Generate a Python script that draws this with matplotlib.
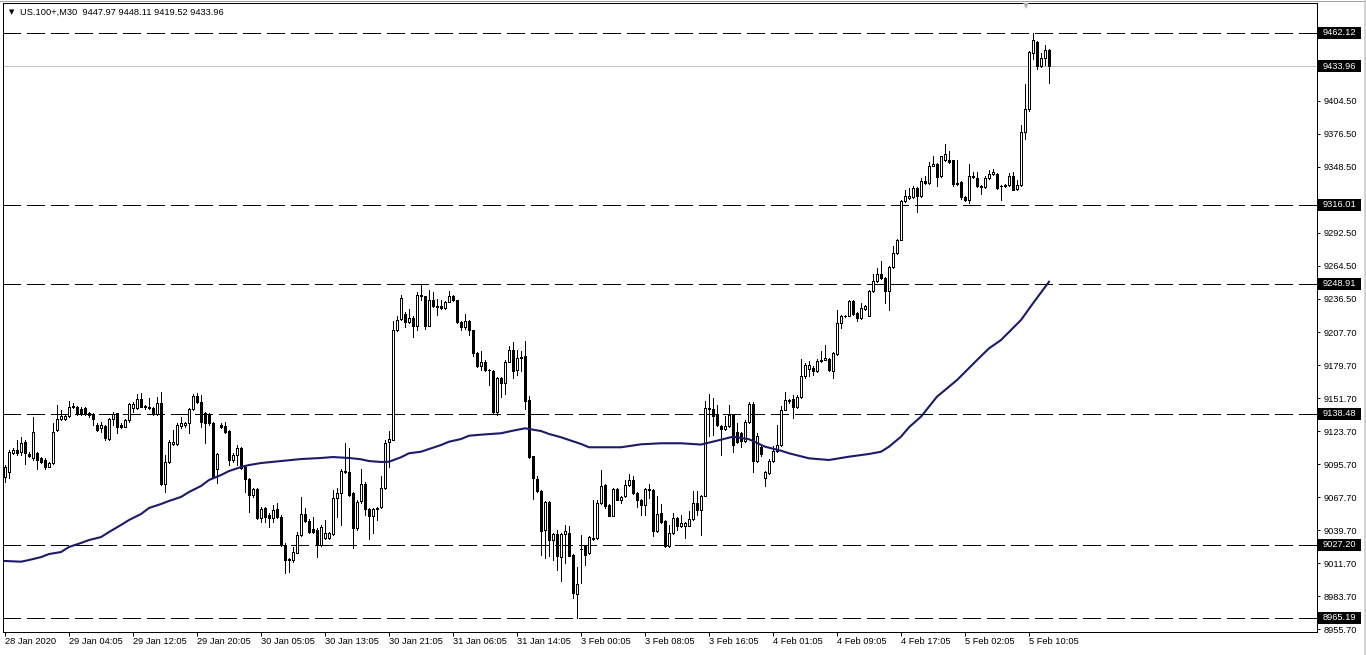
# US.100+ M30 candlestick chart (MT4 style)

import numpy as np
import matplotlib
matplotlib.use("Agg")
import matplotlib.pyplot as plt
from matplotlib.patches import Rectangle
from matplotlib.lines import Line2D
import matplotlib.transforms as mtransforms

plt.rcParams['font.family'] = ['Liberation Sans', 'DejaVu Sans']

# ------------------ DATA ------------------

header = "US.100+,M30  9447.97 9448.11 9419.52 9433.96"

opens = [
    9085.2, 9089.4, 9105.6, 9107.8, 9106.4, 9114.9, 9104.4, 9100.8, 9105.0, 9100.8,
    9099.3, 9093.7, 9096.5, 9124.8, 9133.9, 9133.9, 9136.7, 9144.1, 9144.1, 9142.7,
    9143.2, 9139.0, 9138.1, 9129.1, 9126.2, 9128.2, 9116.9, 9133.9, 9139.0, 9129.1,
    9127.7, 9133.3, 9143.2, 9143.2, 9150.9, 9145.2, 9144.6, 9143.2, 9138.4, 9148.0,
    9079.0, 9097.9, 9112.9, 9112.9, 9128.2, 9129.1, 9131.1, 9142.4, 9153.7, 9148.9,
    9139.0, 9137.6, 9130.5, 9091.4, 9129.1, 9128.2, 9124.3, 9099.3, 9103.6, 9109.2,
    9093.7, 9082.9, 9069.6, 9074.4, 9049.8, 9058.3, 9052.6, 9049.8, 9057.4, 9051.2,
    9027.1, 9014.4, 9014.4, 9020.6, 9035.6, 9053.2, 9047.8, 9040.4, 9039.9, 9027.1,
    9032.8, 9032.8, 9036.5, 9066.8, 9071.0, 9090.3, 9089.4, 9071.0, 9041.3, 9064.2,
    9079.2, 9057.7, 9051.4, 9057.7, 9059.4, 9075.5, 9114.3, 9116.6, 9209.5, 9219.1,
    9223.6, 9216.5, 9219.9, 9213.4, 9239.8, 9238.3, 9213.4, 9234.9, 9230.4, 9230.4,
    9228.4, 9233.8, 9238.9, 9234.9, 9216.5, 9212.3, 9217.1, 9209.5, 9190.2, 9178.9,
    9182.3, 9176.0, 9174.6, 9139.8, 9169.0, 9164.7, 9182.8, 9193.0, 9175.5, 9186.8,
    9187.9, 9150.6, 9102.4, 9083.2, 9072.7, 9039.5, 9063.3, 9031.0, 9036.7, 9016.9,
    9036.7, 9037.3, 9018.9, 8985.7, 9023.7, 9026.5, 9020.3, 9032.2, 9033.0, 9062.8,
    9078.3, 9061.4, 9052.0, 9074.7, 9065.0, 9068.4, 9078.3, 9082.0, 9071.3, 9065.6,
    9061.4, 9074.9, 9074.1, 9038.7, 9054.3, 9047.2, 9026.5, 9037.3, 9050.0, 9042.9,
    9043.5, 9043.5, 9049.2, 9062.8, 9056.5, 9069.0, 9143.5, 9142.6, 9138.8, 9128.6,
    9125.7, 9128.0, 9137.9, 9122.9, 9122.3, 9115.3, 9131.4, 9147.2, 9098.3, 9110.4,
    9084.1, 9088.4, 9098.3, 9106.8, 9112.4, 9142.2, 9149.8, 9151.2, 9144.4, 9152.9,
    9170.5, 9176.7, 9177.6, 9174.7, 9183.2, 9184.6, 9185.2, 9174.7, 9189.7, 9215.8,
    9221.5, 9222.0, 9234.2, 9224.3, 9220.0, 9227.7, 9222.0, 9242.7, 9251.2, 9257.7,
    9254.0, 9242.7, 9263.4, 9275.3, 9286.6, 9319.2, 9322.0, 9322.8, 9330.5, 9323.4,
    9336.7, 9334.7, 9349.5, 9351.2, 9340.4, 9354.0, 9354.0, 9354.0, 9334.7, 9335.3,
    9322.8, 9320.0, 9341.0, 9339.0, 9332.5, 9331.3, 9339.0, 9342.7, 9342.7, 9332.5,
    9331.9, 9333.3, 9341.0, 9329.6, 9333.3, 9377.8, 9397.6, 9445.2, 9454.2, 9433.9,
    9440.9, 9447.97,
]

highs = [
    9095.1, 9107.8, 9109.2, 9116.3, 9119.2, 9116.3, 9106.4, 9135.6, 9106.4, 9102.2,
    9100.8, 9097.9, 9131.1, 9146.1, 9141.8, 9138.2, 9149.7, 9147.5, 9145.2, 9144.6,
    9144.1, 9140.4, 9139.0, 9130.5, 9131.9, 9129.1, 9134.7, 9140.4, 9139.5, 9130.5,
    9133.9, 9147.5, 9148.9, 9155.4, 9156.0, 9146.1, 9151.7, 9144.6, 9153.1, 9157.4,
    9103.6, 9116.3, 9124.8, 9131.1, 9136.2, 9131.9, 9143.2, 9155.4, 9156.0, 9154.6,
    9140.4, 9139.0, 9131.9, 9105.6, 9130.5, 9131.9, 9124.8, 9105.0, 9112.1, 9110.7,
    9095.1, 9083.8, 9075.3, 9075.3, 9059.7, 9059.7, 9054.0, 9061.1, 9062.5, 9052.6,
    9028.5, 9015.8, 9025.7, 9038.4, 9068.2, 9058.3, 9048.9, 9051.2, 9041.3, 9044.1,
    9048.4, 9038.4, 9073.8, 9075.3, 9091.4, 9113.5, 9109.2, 9072.4, 9065.3, 9091.6,
    9080.3, 9058.5, 9058.5, 9059.4, 9085.4, 9116.0, 9123.6, 9217.1, 9221.4, 9239.8,
    9224.8, 9227.6, 9221.4, 9241.7, 9248.3, 9238.9, 9243.4, 9241.7, 9236.1, 9235.5,
    9234.7, 9242.9, 9239.8, 9235.5, 9217.1, 9223.6, 9218.0, 9210.0, 9190.8, 9191.6,
    9184.5, 9176.6, 9175.5, 9169.8, 9169.8, 9184.0, 9196.4, 9199.3, 9193.0, 9191.6,
    9200.7, 9153.4, 9103.0, 9085.4, 9073.5, 9064.2, 9064.2, 9037.3, 9040.1, 9037.3,
    9044.4, 9042.9, 9019.7, 9008.4, 9035.9, 9027.4, 9035.0, 9065.6, 9065.6, 9091.1,
    9079.2, 9062.2, 9075.5, 9075.5, 9068.4, 9082.6, 9087.7, 9085.4, 9071.8, 9066.2,
    9075.5, 9079.2, 9074.7, 9068.4, 9062.2, 9048.0, 9044.4, 9054.3, 9050.9, 9052.8,
    9046.3, 9055.7, 9072.7, 9072.7, 9069.8, 9149.1, 9155.7, 9152.1, 9146.4, 9129.4,
    9136.5, 9146.4, 9138.8, 9130.8, 9122.9, 9133.7, 9148.4, 9148.4, 9122.3, 9112.4,
    9089.8, 9100.3, 9111.0, 9129.4, 9145.0, 9156.9, 9151.2, 9154.9, 9154.9, 9185.2,
    9181.8, 9183.2, 9179.0, 9185.2, 9191.7, 9197.4, 9186.1, 9190.9, 9227.1, 9222.9,
    9222.9, 9235.6, 9235.0, 9224.9, 9232.8, 9231.4, 9244.1, 9257.7, 9262.5, 9268.2,
    9254.9, 9263.9, 9281.5, 9287.1, 9320.0, 9328.5, 9330.5, 9331.9, 9331.3, 9339.0,
    9340.4, 9352.3, 9358.0, 9351.7, 9358.0, 9368.2, 9361.6, 9354.6, 9354.6, 9336.1,
    9323.4, 9351.2, 9343.8, 9343.8, 9333.3, 9340.4, 9346.1, 9346.6, 9343.2, 9333.3,
    9334.2, 9343.2, 9343.8, 9337.6, 9384.3, 9419.1, 9447.0, 9462.12, 9455.1, 9445.2,
    9452.3, 9448.11,
]

lows = [
    9080.9, 9084.3, 9104.4, 9103.6, 9103.6, 9095.9, 9101.6, 9099.3, 9091.4, 9096.5,
    9091.4, 9093.1, 9095.9, 9124.3, 9133.3, 9133.3, 9136.2, 9143.2, 9137.6, 9137.6,
    9137.6, 9136.2, 9129.1, 9124.3, 9123.4, 9116.3, 9116.3, 9129.1, 9122.0, 9126.2,
    9127.1, 9131.9, 9140.4, 9142.4, 9144.1, 9142.4, 9142.4, 9137.6, 9137.6, 9078.1,
    9072.4, 9096.5, 9112.1, 9112.1, 9126.2, 9127.7, 9122.0, 9141.8, 9147.5, 9127.7,
    9113.5, 9129.1, 9084.6, 9079.5, 9126.2, 9122.6, 9095.1, 9097.9, 9095.1, 9091.4,
    9072.4, 9055.4, 9068.2, 9048.9, 9047.0, 9047.0, 9042.7, 9047.0, 9049.8, 9026.5,
    9003.0, 9004.5, 9013.0, 9020.1, 9034.8, 9046.9, 9037.0, 9037.6, 9017.2, 9026.3,
    9032.0, 9032.0, 9035.6, 9051.2, 9044.1, 9088.6, 9068.8, 9024.3, 9039.9, 9062.8,
    9052.8, 9032.2, 9037.3, 9048.0, 9058.5, 9074.7, 9093.3, 9116.0, 9208.6, 9218.5,
    9212.3, 9215.7, 9203.8, 9209.5, 9235.5, 9210.6, 9212.9, 9229.3, 9222.8, 9227.6,
    9227.6, 9233.2, 9234.1, 9215.7, 9210.0, 9210.6, 9205.8, 9187.4, 9178.3, 9176.0,
    9175.2, 9163.3, 9139.2, 9137.8, 9152.8, 9155.7, 9182.3, 9169.0, 9171.8, 9174.6,
    9142.6, 9101.0, 9066.2, 9071.8, 9018.9, 9016.0, 9017.5, 9014.6, 9006.1, 8996.2,
    9011.8, 9017.5, 8982.1, 8965.19, 8994.8, 9010.4, 9019.7, 9031.6, 9032.2, 9062.2,
    9058.5, 9051.4, 9051.4, 9065.0, 9062.8, 9067.9, 9077.5, 9070.7, 9059.4, 9052.8,
    9052.8, 9067.0, 9035.0, 9037.8, 9045.8, 9025.9, 9025.4, 9036.7, 9040.1, 9042.4,
    9033.0, 9042.9, 9048.6, 9052.8, 9035.9, 9068.4, 9119.4, 9120.9, 9128.6, 9103.9,
    9125.2, 9127.4, 9105.9, 9113.8, 9110.4, 9114.4, 9130.8, 9088.9, 9097.4, 9102.5,
    9077.0, 9087.8, 9097.4, 9105.9, 9111.6, 9141.6, 9147.8, 9135.1, 9143.6, 9152.1,
    9169.1, 9170.5, 9171.9, 9173.9, 9182.4, 9184.1, 9174.7, 9169.1, 9188.9, 9211.5,
    9220.9, 9221.5, 9222.9, 9217.2, 9219.2, 9227.1, 9221.5, 9241.8, 9250.3, 9253.2,
    9232.8, 9226.5, 9262.5, 9274.7, 9286.0, 9318.3, 9321.1, 9322.0, 9309.8, 9322.8,
    9334.2, 9334.2, 9348.9, 9331.9, 9339.8, 9353.1, 9351.7, 9331.9, 9333.3, 9321.1,
    9319.2, 9317.7, 9339.0, 9331.3, 9325.7, 9330.5, 9338.1, 9341.8, 9329.6, 9320.6,
    9331.3, 9332.5, 9328.5, 9329.1, 9332.5, 9372.1, 9396.0, 9440.1, 9431.6, 9433.3,
    9435.3, 9419.52,
]

closes = [
    9093.7, 9106.4, 9107.8, 9105.6, 9113.5, 9105.0, 9102.7, 9123.4, 9099.3, 9097.9,
    9093.7, 9096.5, 9123.4, 9133.9, 9136.7, 9136.7, 9144.6, 9145.2, 9138.4, 9138.1,
    9138.4, 9137.3, 9133.9, 9124.8, 9129.1, 9117.7, 9133.9, 9138.4, 9127.7, 9127.7,
    9133.3, 9146.9, 9146.9, 9150.9, 9144.6, 9144.1, 9143.2, 9138.4, 9148.0, 9079.0,
    9097.9, 9114.9, 9114.9, 9129.1, 9130.5, 9131.1, 9142.4, 9153.7, 9148.9, 9131.9,
    9130.5, 9130.5, 9085.2, 9104.4, 9127.7, 9123.4, 9099.3, 9103.6, 9109.2, 9092.3,
    9082.9, 9069.6, 9074.4, 9049.8, 9057.4, 9051.2, 9049.8, 9056.9, 9050.6, 9027.1,
    9014.4, 9014.9, 9021.5, 9035.6, 9053.2, 9047.8, 9038.4, 9038.4, 9027.1, 9042.7,
    9037.0, 9037.0, 9066.8, 9071.6, 9090.3, 9089.4, 9069.6, 9041.3, 9063.9, 9079.2,
    9057.7, 9051.4, 9057.7, 9058.5, 9075.5, 9113.7, 9117.1, 9210.0, 9218.5, 9236.9,
    9216.5, 9219.9, 9213.4, 9239.8, 9238.9, 9213.4, 9234.9, 9229.8, 9229.3, 9228.4,
    9233.8, 9238.9, 9234.9, 9216.5, 9212.3, 9217.1, 9209.5, 9190.2, 9178.9, 9182.8,
    9176.0, 9175.5, 9139.8, 9169.0, 9164.7, 9182.8, 9193.0, 9174.6, 9186.0, 9186.0,
    9149.1, 9101.8, 9084.0, 9072.7, 9038.7, 9063.3, 9031.0, 9036.7, 9017.5, 9036.7,
    9039.3, 9018.0, 8986.3, 8994.2, 9023.5, 9018.9, 9033.9, 9033.0, 9062.8, 9076.9,
    9060.5, 9052.0, 9074.7, 9065.6, 9067.9, 9078.3, 9082.0, 9071.3, 9065.6, 9061.4,
    9074.9, 9074.1, 9038.7, 9053.7, 9046.3, 9026.5, 9037.3, 9050.0, 9042.9, 9045.8,
    9045.8, 9049.2, 9062.8, 9057.1, 9069.0, 9143.5, 9142.6, 9136.5, 9129.4, 9125.7,
    9128.0, 9137.9, 9112.4, 9114.4, 9115.3, 9131.4, 9147.2, 9098.3, 9120.1, 9104.8,
    9088.9, 9098.3, 9106.8, 9112.4, 9141.6, 9150.7, 9150.7, 9144.4, 9152.9, 9170.5,
    9180.4, 9180.4, 9174.7, 9183.2, 9184.6, 9186.1, 9175.6, 9190.3, 9215.8, 9221.5,
    9222.0, 9234.8, 9223.7, 9220.0, 9228.5, 9229.9, 9242.7, 9251.2, 9257.7, 9254.0,
    9242.7, 9263.4, 9275.3, 9286.6, 9319.2, 9323.4, 9323.4, 9330.5, 9323.4, 9336.7,
    9334.7, 9349.5, 9351.2, 9339.8, 9357.4, 9359.7, 9352.3, 9333.9, 9333.9, 9322.8,
    9320.0, 9340.4, 9339.8, 9331.9, 9331.3, 9339.0, 9342.7, 9343.8, 9330.5, 9331.9,
    9333.3, 9341.0, 9329.1, 9333.3, 9377.8, 9397.6, 9446.0, 9456.0, 9433.9, 9440.9,
    9448.0, 9433.96,
]

# moving average read at selected bars
ma_bars = [0, 4, 6, 9, 11, 14, 16, 19, 21, 24, 26, 29, 31, 34, 36, 39, 41, 44, 46,
           49, 51, 54, 56, 59, 61, 64, 69, 74, 79, 82, 86, 89, 91, 94, 96, 99, 101,
           104, 106, 109, 111, 114, 116, 119, 124, 127, 130, 134, 136, 139, 141,
           144, 146, 154, 159, 164, 169, 174, 178, 182, 186, 190, 194, 196, 201,
           206, 211, 216, 219, 221, 224, 226, 229, 233, 238, 243, 246, 249, 254,
           257, 261]
ma_values = [9013.6, 9013.0, 9014.4, 9016.9, 9019.5, 9021.2, 9025.5, 9028.9, 9031.4,
             9033.9, 9038.2, 9044.2, 9048.4, 9053.5, 9058.6, 9062.0, 9064.6, 9068.0,
             9072.2, 9077.3, 9082.4, 9086.6, 9090.0, 9093.4, 9095.1, 9096.8, 9098.5,
             9100.2, 9101.1, 9101.9, 9101.1, 9100.0, 9098.5, 9097.7, 9097.9, 9101.7,
             9105.1, 9106.4, 9108.7, 9112.1, 9114.9, 9117.2, 9120.0, 9120.9, 9122.1,
             9124.3, 9126.3, 9124.0, 9121.5, 9118.7, 9116.4, 9113.0, 9110.2, 9110.2,
             9112.7, 9113.6, 9113.6, 9112.5, 9115.8, 9119.2, 9117.0, 9110.7, 9107.3,
             9105.1, 9100.8, 9099.4, 9102.2, 9104.5, 9106.4, 9110.7, 9119.2, 9127.2,
             9136.2, 9153.2, 9167.3, 9184.3, 9194.2, 9201.3, 9218.3, 9232.5, 9250.8]

levels = [9462.12, 9316.01, 9248.91, 9138.48, 9027.20, 8965.19]
last_price = 9433.96

price_ticks = [9404.50, 9376.50, 9348.50, 9292.50, 9264.50, 9236.50, 9207.70,
               9179.70, 9151.70, 9123.70, 9095.70, 9067.70, 9039.70, 9011.70,
               8983.70, 8955.70]

time_labels = ["28 Jan 2020", "29 Jan 04:05", "29 Jan 12:05", "29 Jan 20:05",
               "30 Jan 05:05", "30 Jan 13:05", "30 Jan 21:05", "31 Jan 06:05",
               "31 Jan 14:05", "3 Feb 00:05", "3 Feb 08:05", "3 Feb 16:05",
               "4 Feb 01:05", "4 Feb 09:05", "4 Feb 17:05", "5 Feb 02:05",
               "5 Feb 10:05"]
bars_per_label = 16

# ------------------ VISUALIZATION ------------------

W, H = 1366, 655
fig = plt.figure(figsize=(W / 100, H / 100), dpi=100)
ax = fig.add_axes([3 / W, 23 / H, 1314 / W, 629 / H])

o = np.array(opens)
hi = np.array(highs)
lo = np.array(lows)
c = np.array(closes)
x = np.arange(len(o))
up = c >= o
LW = 0.72  # about one pixel

# level lines and bid line
for lv in levels:
    ax.axhline(lv, color='black', lw=LW, dashes=(18, 6), antialiased=False, zorder=1)
ax.axhline(last_price, color='#c0c0c0', lw=LW, antialiased=False, zorder=1)

# wicks
ax.vlines(x, lo, hi, color='black', lw=LW, antialiased=False, zorder=2)

# bodies
body_bottom = np.minimum(o, c)
body_height = np.maximum(np.abs(c - o), 0.3)
ax.bar(x[up], body_height[up], bottom=body_bottom[up], width=0.5,
       facecolor='white', edgecolor='black', linewidth=LW, antialiased=False, zorder=3)
ax.bar(x[~up], body_height[~up], bottom=body_bottom[~up], width=0.5,
       facecolor='black', edgecolor='black', linewidth=LW, antialiased=False, zorder=3)

# moving average
ax.plot(ma_bars, ma_values, color='#1b1b6b', lw=1.5, zorder=4,
        solid_joinstyle='round')

ax.set_xlim(-0.5, 328)
ax.set_ylim(8953.27, 9487.60)

# x axis
ax.set_xticks(np.arange(len(time_labels)) * bars_per_label)
ax.set_xticklabels(time_labels, ha='left')
ax.tick_params(axis='x', direction='out', length=3, width=LW, pad=0.5,
               labelsize=6.7, colors='black')

# y axis on the right
ax.yaxis.tick_right()
ax.set_yticks(price_ticks)
ax.set_yticklabels([f"{t:.2f}" for t in price_ticks])
ax.tick_params(axis='y', direction='out', length=2.5, width=LW, pad=2,
               labelsize=6.7, colors='black')

for sp in ax.spines.values():
    sp.set_linewidth(LW)
    sp.set_color('black')

# price boxes on the right axis
trans = mtransforms.blended_transform_factory(ax.transAxes, ax.transData)
box_w = 43 / 1314
box_h = 12 * 0.8495
for lv in levels + [last_price]:
    ax.add_patch(Rectangle((1.0008, lv - box_h / 2), box_w, box_h, transform=trans,
                           facecolor='black', edgecolor='none', clip_on=False, zorder=5))
    ax.text(1.0008 + box_w / 2, lv, f"{lv:.2f}", transform=trans, color='white',
            fontsize=6.7, ha='center', va='center', clip_on=False, zorder=6)

# header
fig.text(9 / W, 1 - 12 / H, "\u25bc", fontsize=5, va='center', ha='left',
         family=['DejaVu Sans'])
fig.text(20 / W, 1 - 12 / H, header, fontsize=6.7, va='center', ha='left')

# chart shift marker
fig.text(1026 / W, 1 - 6 / H, "\u25bc", fontsize=5.5, va='center', ha='center',
         color='#b4b4b4', family=['DejaVu Sans'])

# window frame
fig.add_artist(Line2D([0, 1], [1 - 0.5 / H, 1 - 0.5 / H], color='#a0a0a0', lw=LW))
fig.add_artist(Line2D([1 - 1.5 / W, 1 - 1.5 / W], [0, 1], color='#d0d0d0', lw=2))

fig.savefig("out.png", dpi=100)
plt.close(fig)
